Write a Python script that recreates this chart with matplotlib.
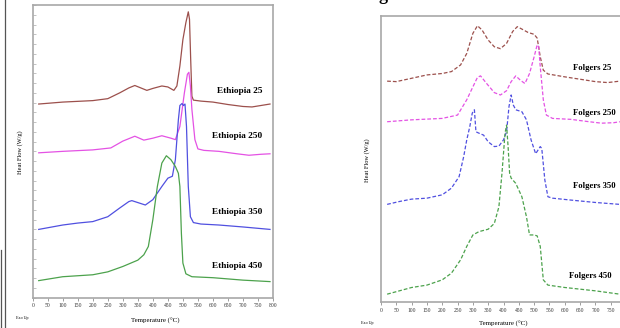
import numpy as np
import matplotlib.pyplot as plt
from matplotlib.lines import Line2D

# ---- data (arbitrary heat-flow units) ----
eth_x = {
    "25":  [20, 100, 200, 250, 290, 320, 340, 360, 380, 400, 430, 450, 470, 480, 490, 500, 510, 518, 522, 526, 530, 535, 560, 600, 650, 700, 730, 760, 790],
    "250": [20, 100, 200, 260, 300, 340, 370, 400, 430, 460, 475, 490, 505, 515, 520, 525, 530, 540, 550, 570, 620, 680, 720, 760, 790],
    "350": [20, 100, 150, 200, 250, 290, 320, 330, 350, 375, 400, 430, 450, 465, 475, 485, 490, 497, 502, 507, 512, 518, 525, 535, 560, 620, 700, 790],
    "450": [20, 100, 150, 200, 250, 300, 350, 370, 385, 400, 415, 430, 445, 460, 475, 485, 490, 495, 500, 510, 530, 600, 700, 790],
}
eth_y = {
    "25":  [3.97, 4.01, 4.04, 4.08, 4.20, 4.30, 4.35, 4.30, 4.25, 4.29, 4.34, 4.32, 4.25, 4.34, 4.75, 5.29, 5.64, 5.86, 5.71, 4.88, 4.13, 4.05, 4.03, 4.01, 3.96, 3.92, 3.91, 3.94, 3.97],
    "250": [2.97, 3.00, 3.03, 3.07, 3.21, 3.31, 3.23, 3.27, 3.32, 3.27, 3.24, 3.51, 4.20, 4.58, 4.62, 4.34, 3.86, 3.24, 3.05, 3.02, 3.00, 2.95, 2.92, 2.94, 2.95],
    "350": [1.40, 1.49, 1.53, 1.56, 1.66, 1.84, 1.97, 1.99, 1.95, 1.90, 2.01, 2.28, 2.45, 2.49, 2.83, 3.65, 3.94, 3.98, 3.94, 3.97, 3.51, 2.28, 1.66, 1.54, 1.51, 1.49, 1.45, 1.40],
    "450": [0.35, 0.43, 0.45, 0.47, 0.53, 0.64, 0.77, 0.88, 1.05, 1.60, 2.28, 2.76, 2.91, 2.83, 2.69, 2.55, 2.28, 1.32, 0.71, 0.49, 0.43, 0.41, 0.36, 0.33],
}

fol_x = {
    "25":  [20, 50, 100, 150, 200, 230, 260, 280, 300, 315, 330, 350, 370, 390, 410, 430, 445, 460, 480, 500, 510, 520, 530, 545, 600, 650, 700, 740, 780],
    "250": [20, 100, 200, 250, 280, 300, 315, 325, 345, 370, 390, 410, 425, 440, 455, 470, 485, 500, 510, 515, 520, 530, 540, 560, 620, 680, 720, 760, 780],
    "350": [20, 60, 100, 150, 200, 230, 255, 270, 280, 290, 298, 305, 310, 320, 335, 350, 370, 385, 400, 410, 418, 425, 432, 440, 460, 475, 490, 505, 520, 525, 535, 545, 560, 620, 700, 780],
    "450": [20, 100, 150, 200, 230, 260, 280, 300, 320, 350, 370, 385, 395, 405, 410, 415, 420, 425, 440, 460, 475, 485, 500, 510, 520, 530, 545, 600, 700, 780],
}
fol_y = {
    "25":  [4.63, 4.62, 4.69, 4.76, 4.79, 4.83, 4.97, 5.21, 5.63, 5.79, 5.70, 5.49, 5.35, 5.31, 5.42, 5.67, 5.77, 5.72, 5.65, 5.61, 5.53, 5.14, 4.86, 4.78, 4.72, 4.67, 4.62, 4.60, 4.63],
    "250": [3.78, 3.82, 3.85, 3.92, 4.24, 4.51, 4.71, 4.74, 4.58, 4.39, 4.34, 4.43, 4.62, 4.74, 4.65, 4.58, 4.79, 5.14, 5.39, 5.35, 4.93, 4.24, 3.92, 3.85, 3.83, 3.78, 3.75, 3.76, 3.78],
    "350": [2.05, 2.11, 2.16, 2.18, 2.25, 2.39, 2.63, 3.05, 3.40, 3.68, 3.96, 4.03, 3.57, 3.54, 3.50, 3.36, 3.26, 3.27, 3.40, 3.57, 4.10, 4.34, 4.13, 4.03, 3.99, 3.82, 3.40, 3.11, 3.26, 3.22, 2.56, 2.21, 2.18, 2.14, 2.09, 2.05],
    "450": [0.17, 0.31, 0.36, 0.47, 0.61, 0.89, 1.17, 1.41, 1.48, 1.53, 1.65, 2.00, 2.70, 3.54, 3.71, 3.26, 2.70, 2.60, 2.49, 2.21, 1.79, 1.41, 1.41, 1.39, 1.17, 0.47, 0.36, 0.31, 0.24, 0.17],
}

series = ["25", "250", "350", "450"]
colors = {"25": "#9c504c", "250": "#e452e4", "350": "#5050e0", "450": "#4ca24c"}

eth_label_y = {"25": 4.23, "250": 3.31, "350": 1.75, "450": 0.64}
fol_label_y = {"25": 4.90, "250": 3.97, "350": 2.44, "450": 0.55}
fol_label_x = {"25": 627, "250": 627, "350": 627, "450": 614}

serif = "Liberation Serif"
spine_col = "#a8a8a8"


def style_axes(ax, xticks, yticks=True):
    ax.set_xlim(0, 800)
    ax.set_ylim(0, 6)
    ax.set_xticks(xticks)
    ax.set_xticklabels([str(v) for v in xticks], fontsize=4, family=serif, color="#333333")
    ax.tick_params(axis="x", length=2.5, width=0.5, color="#777777", pad=1.5)
    if yticks:
        ax.set_yticks(np.arange(0, 6.01, 1))
        ax.set_yticks(np.arange(0, 6.01, 0.2), minor=True)
        ax.tick_params(axis="y", which="both", direction="in", length=2, width=0.5,
                       color="#aaaaaa", labelleft=False)
    else:
        ax.set_yticks([])
    for s in ax.spines.values():
        s.set_color(spine_col)
        s.set_linewidth(1.2)


fig = plt.figure(figsize=(6.2, 3.28), dpi=100)

# left panel: Ethiopia (solid lines)
ax1 = fig.add_axes([32.7 / 620, 1 - 297.7 / 328, 240.3 / 620, 292.7 / 328])
style_axes(ax1, np.arange(0, 801, 50), yticks=True)
for k in series:
    ax1.plot(eth_x[k], eth_y[k], color=colors[k], lw=0.9)
    ax1.text(764, eth_label_y[k], "Ethiopia " + k, ha="right", va="center",
             fontsize=6.7, fontweight="bold", family=serif)
fig.text(155 / 620, 1 - 321 / 328, "Temperature (°C)", ha="center", va="center",
         fontsize=5, family=serif)
fig.text(20 / 620, 1 - 152 / 328, "Heat Flow (W/g)", ha="center", va="center",
         rotation=90, fontsize=4.6, family=serif)
fig.text(22 / 620, 1 - 318 / 328, "Exo Up", ha="center", va="center",
         fontsize=3, family=serif)

# right panel: Folgers (dashed lines), runs off the right edge
ax2 = fig.add_axes([381 / 620, 1 - 302.3 / 328, 245 / 620, 286.6 / 328])
style_axes(ax2, np.arange(0, 751, 50), yticks=False)
for k in series:
    ax2.plot(fol_x[k], fol_y[k], color=colors[k], lw=0.9, ls=(0, (3, 1.6)))
    ax2.text(fol_label_x[k], fol_label_y[k], "Folgers " + k, ha="left", va="center",
             fontsize=6.2, fontweight="bold", family=serif)
fig.text(503 / 620, 1 - 324 / 328, "Temperature (°C)", ha="center", va="center",
         fontsize=5, family=serif)
fig.text(367 / 620, 1 - 160 / 328, "Heat Flow (W/g)", ha="center", va="center",
         rotation=90, fontsize=4.6, family=serif)
fig.text(367 / 620, 1 - 323 / 328, "Exo Up", ha="center", va="center",
         fontsize=3, family=serif)

# cropped heading letter at the top of the right half
fig.text(383 / 620, 1 + 5 / 328, "g", ha="center", va="center",
         fontsize=13, fontweight="bold", family=serif)

# page border remnants on the far left
fig.add_artist(Line2D([4.5 / 620, 4.5 / 620], [0, 1], color="#555555", lw=0.9))
fig.add_artist(Line2D([1.2 / 620, 1.2 / 620], [0, 1 - 250 / 328], color="#555555", lw=0.9))

fig.savefig("out.png", dpi=100)
